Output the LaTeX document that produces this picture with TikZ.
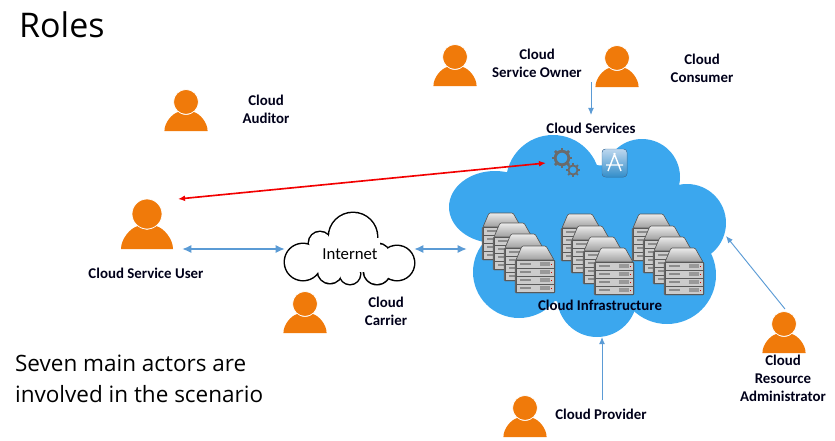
\documentclass[tikz,border=0pt]{standalone}
\usepackage{fontspec}
\setmainfont{Carlito}
\newfontfamily\titlefont{Open Sans}
\definecolor{personcol}{HTML}{F07A0A}
\definecolor{cloudcol}{HTML}{3BA7EE}
\definecolor{linkcol}{HTML}{5B9BD5}
\definecolor{gearcol}{HTML}{6A6A6A}
\usetikzlibrary{arrows.meta}
\tikzset{
  label/.style={font=\fontsize{12.7}{15.4}\selectfont\bfseries, align=center, text=black!90!blue},
  thicklink/.style={{Latex[length=8pt,width=7pt]}-{Latex[length=8pt,width=7pt]}, linkcol, line width=2pt},
  thinlink/.style={-{Latex[length=6pt,width=5pt]}, linkcol, line width=.8pt},
  person/.pic={
    \fill[personcol] (-26,0) .. controls (-26,-10) and (-17,-21) .. (-9,-23)
      .. controls (-3,-18) and (3,-18) .. (9,-23)
      .. controls (17,-21) and (26,-10) .. (26,0) -- cycle;
    \filldraw[fill=personcol, draw=white, line width=.6pt] (0,-35) circle (15);
  },
  server/.pic={
    \filldraw[fill=black!60, draw=black!60, rounded corners=1pt] (-1,14) rectangle (39,47);
    \foreach \r in {0,1,2,3} {
      \filldraw[fill=black!20, draw=black!65, line width=.4pt] (0,14+8*\r) rectangle (38,22+8*\r);
      \fill[black!45] (4,17+8*\r) rectangle (15,19+8*\r);
      \fill[black!40] (24,16+8*\r) rectangle (34,20+8*\r);
      \fill[red!80!black] (35.2,17.5+8*\r) rectangle (36,18.5+8*\r);
    }
    \filldraw[top color=black!8, bottom color=black!38, draw=black!65, line width=.5pt, rounded corners=1pt]
      (6,0) -- (30,0) -- (38,14) -- (0,14) -- cycle;
  },
  gear/.pic={
    \foreach \a in {0,45,...,315}
      \draw[gearcol, line width=2.2pt] (\a:6) -- (\a:10);
    \draw[gearcol, line width=2.4pt] (0,0) circle (6.8);
  },
  smallgear/.pic={
    \foreach \a in {0,45,...,315}
      \draw[gearcol, line width=1.5pt] (\a:4) -- (\a:7);
    \draw[gearcol, line width=1.6pt] (0,0) circle (4.6);
  }
}
\begin{document}
\begin{tikzpicture}[x=0.03cm, y=-0.03cm]
  \useasboundingbox (0,0) rectangle (835,440);

  % big cloud
  \fill[cloudcol] (553,182) circle (47);
  \fill[cloudcol] (642,177) circle (38);
  \fill[cloudcol] (495,207) ellipse [x radius=46, y radius=36];
  \fill[cloudcol] (687,223) circle (39);
  \fill[cloudcol] (519,272) circle (46);
  \fill[cloudcol] (597,297) circle (40);
  \fill[cloudcol] (667,275) circle (49);
  \fill[cloudcol] (590,235) ellipse [x radius=105, y radius=70];

  % servers
  \foreach \x/\y in {483/213, 494/223, 505/234, 516/246,
                     562/214, 572/226, 584/237, 595/248,
                     633/214, 644/226, 654/237, 665/248}
    \pic at (\x,\y) {server};

  % icons
  \pic at (562,158) {gear};
  \pic at (573,170) {smallgear};
  \filldraw[top color=linkcol!40!white, bottom color=cloudcol!85!black, draw=linkcol!80!black, rounded corners=3pt]
    (602,149) rectangle (627,177);
  \draw[white, line width=1.2pt] (608,171) -- (615,153) (621,171) -- (614,153) (606,165) -- (623,165);

  % internet cloud
  \foreach \x/\y/\r in {353/237/24, 320/243/11, 303/262/18, 397/263/17, 378/256/12, 330/271/12, 350/274/10, 377/271/13}
    \fill[black] (\x,\y) circle (\r+1.5);
  \foreach \x/\y/\r in {353/237/24, 320/243/11, 303/262/18, 397/263/17, 378/256/12, 330/271/12, 350/274/10, 377/271/13}
    \fill[white] (\x,\y) circle (\r);
  \fill[white] (305,250) rectangle (395,272);
  \fill[white] (325,238) rectangle (380,252);

  % people
  \pic at (147,249) {person};
  \pic[scale=.83] at (455,86) {person};
  \pic[scale=.83] at (617,87) {person};
  \pic[scale=.83] at (186,131) {person};
  \pic[scale=.83] at (305,333) {person};
  \pic[scale=.83] at (784,353) {person};
  \pic[scale=.83] at (525,437) {person};

  % texts
  \node[font=\titlefont\fontsize{29}{34}\selectfont, anchor=west] (title) at (15,25) {Roles};
  \node[font=\titlefont\fontsize{19.2}{26.5}\selectfont, align=left, anchor=west] (note) at (11,379) {Seven main actors are\\involved in the scenario};
  \node[font=\fontsize{14.3}{16}\selectfont] (internet) at (350,254) {Internet};
  \node[label] (auditor) at (266,109) {Cloud\\Auditor};
  \node[label] (user) at (146,273) {Cloud Service User};
  \node[label] (carrier) at (386,311) {Cloud\\Carrier};
  \node[label] (owner) at (537,63) {Cloud\\Service Owner};
  \node[label] (consumer) at (702,68) {Cloud\\Consumer};
  \node[label] (services) at (591,128) {Cloud Services};
  \node[label] (infra) at (600,305) {Cloud Infrastructure};
  \node[label] (admin) at (783,378) {Cloud\\Resource\\Administrator};
  \node[label] (provider) at (601,414) {Cloud Provider};

  % connectors
  \coordinate (redA) at (178,199);
  \coordinate (redB) at (546,163);
  \coordinate (userEnd) at (182,249);
  \coordinate (netLeft) at (285,249);
  \coordinate (netRight) at (414,249);
  \coordinate (cloudLeft) at (467,249);
  \coordinate (ownerEnd) at (591,82);
  \coordinate (servicesTop) at (591,115);
  \coordinate (providerEnd) at (602,400);
  \coordinate (cloudBottom) at (602,337);
  \coordinate (adminEnd) at (785,309);
  \coordinate (cloudRight) at (726,236);
  \draw[{Latex[length=6pt,width=5pt]}-{Latex[length=6pt,width=5pt]}, red!95!black, line width=1.4pt] (redA) -- (redB);
  \draw[thicklink] (userEnd) -- (netLeft);
  \draw[thicklink] (netRight) -- (cloudLeft);
  \draw[thinlink] (ownerEnd) -- (servicesTop);
  \draw[thinlink] (providerEnd) -- (cloudBottom);
  \draw[thinlink] (adminEnd) -- (cloudRight);
\end{tikzpicture}
\end{document}
